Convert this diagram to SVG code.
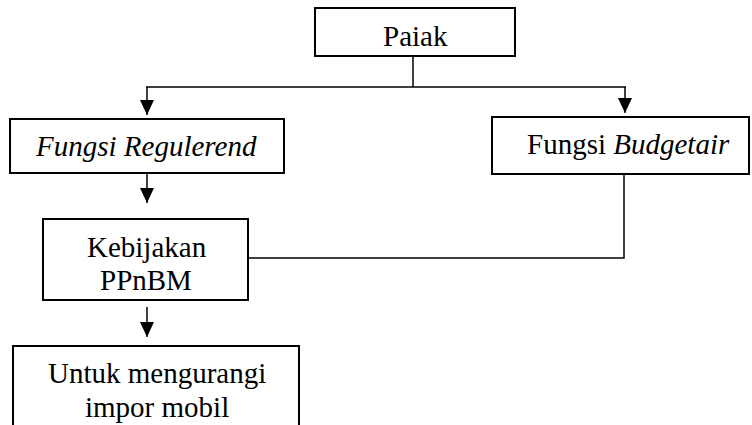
<svg xmlns="http://www.w3.org/2000/svg" width="752" height="425" viewBox="0 0 752 425">
<style>
.box{fill:#fff;stroke:#000;stroke-width:2}
.c{fill:none;stroke:#000;stroke-width:1.5}
</style>
<defs>
<marker id="ah" markerUnits="userSpaceOnUse" markerWidth="14" markerHeight="15" refX="15" refY="7" orient="auto">
<path d="M0,0 L15,7 L0,14 z" fill="#000"/>
</marker>
</defs>
<rect width="752" height="425" fill="#fff"/>
<g id="connectors">
<line class="c" x1="413" y1="56" x2="413" y2="87"/>
<line class="c" x1="146" y1="87" x2="626" y2="87"/>
<line class="c" x1="147" y1="87" x2="147" y2="115" marker-end="url(#ah)"/>
<line class="c" x1="625" y1="87" x2="625" y2="113" marker-end="url(#ah)"/>
<line class="c" x1="147" y1="173" x2="147" y2="203" marker-end="url(#ah)"/>
<line class="c" x1="147" y1="307" x2="147" y2="337" marker-end="url(#ah)"/>
<polyline class="c" points="624,168 624,258 248,258"/>
</g>
<g font-family="Liberation Serif, Times New Roman, serif" font-size="29" fill="#000">
<g id="paiak">
<rect class="box" x="315" y="8" width="200" height="48"/>
<text x="383" y="46">Paiak</text>
</g>
<g id="regulerend">
<rect class="box" x="10" y="119" width="274" height="54"/>
<text x="36" y="156" font-style="italic">Fungsi Regulerend</text>
</g>
<g id="budgetair">
<rect class="box" x="492" y="117" width="257" height="57"/>
<text x="527" y="154">Fungsi <tspan font-style="italic">Budgetair</tspan></text>
</g>
<g id="kebijakan">
<rect class="box" x="43" y="219" width="205" height="81"/>
<text x="87" y="257">Kebijakan</text>
<text x="100" y="290">PPnBM</text>
</g>
<g id="untuk">
<rect class="box" x="13" y="346" width="286" height="100"/>
<text x="48" y="383">Untuk mengurangi</text>
<text x="85" y="417">impor mobil</text>
</g>
</g>
</svg>
